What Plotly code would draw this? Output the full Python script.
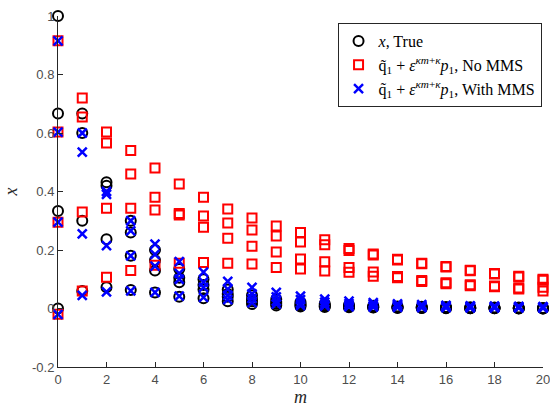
import plotly.graph_objects as go

m_vals = list(range(21))

true_c1 = [1.0, 0.667, 0.432, 0.30, 0.20, 0.135, 0.10, 0.065, 0.045, 0.032, 0.022, 0.016, 0.012, 0.009, 0.007, 0.006, 0.005, 0.004, 0.003, 0.003, 0.002]
true_c2 = [0.667, 0.60, 0.42, 0.26, 0.165, 0.105, 0.08, 0.05, 0.032, 0.022, 0.015, 0.011, 0.008, 0.006, 0.005, 0.004, 0.003, 0.002, 0.002, 0.001, 0.001]
true_c3 = [0.333, 0.30, 0.237, 0.18, 0.13, 0.09, 0.065, 0.04, 0.025, 0.016, 0.011, 0.008, 0.006, 0.004, 0.003, 0.002, 0.002, 0.001, 0.001, 0.001, 0.0]
true_c4 = [0.0, 0.06, 0.073, 0.063, 0.055, 0.04, 0.035, 0.025, 0.015, 0.01, 0.007, 0.005, 0.004, 0.003, 0.002, 0.002, 0.001, 0.001, 0.001, 0.0, 0.0]

nomms_c1 = [0.915, 0.72, 0.603, 0.54, 0.48, 0.426, 0.38, 0.34, 0.309, 0.282, 0.26, 0.235, 0.205, 0.186, 0.168, 0.155, 0.144, 0.131, 0.12, 0.11, 0.10]
nomms_c2 = [0.603, 0.655, 0.566, 0.46, 0.38, 0.325, 0.316, 0.292, 0.268, 0.248, 0.227, 0.218, 0.198, 0.183, 0.166, 0.153, 0.142, 0.129, 0.118, 0.108, 0.097]
nomms_c3 = [0.295, 0.33, 0.343, 0.343, 0.337, 0.32, 0.278, 0.24, 0.213, 0.193, 0.169, 0.16, 0.14, 0.125, 0.109, 0.096, 0.088, 0.081, 0.077, 0.07, 0.073]
nomms_c4 = [-0.02, 0.06, 0.107, 0.13, 0.148, 0.155, 0.157, 0.155, 0.152, 0.14, 0.135, 0.128, 0.124, 0.11, 0.105, 0.092, 0.085, 0.078, 0.074, 0.067, 0.06]

mms_c1 = [0.915, 0.60, 0.40, 0.30, 0.22, 0.16, 0.124, 0.093, 0.072, 0.055, 0.042, 0.032, 0.025, 0.02, 0.016, 0.013, 0.011, 0.009, 0.008, 0.007, 0.006]
mms_c2 = [0.603, 0.535, 0.39, 0.265, 0.185, 0.12, 0.09, 0.066, 0.05, 0.04, 0.03, 0.022, 0.017, 0.014, 0.011, 0.009, 0.008, 0.007, 0.006, 0.005, 0.005]
mms_c3 = [0.295, 0.255, 0.215, 0.18, 0.145, 0.10, 0.072, 0.045, 0.035, 0.025, 0.018, 0.013, 0.01, 0.008, 0.007, 0.006, 0.005, 0.004, 0.004, 0.003, 0.003]
mms_c4 = [-0.02, 0.045, 0.057, 0.06, 0.055, 0.042, 0.038, 0.03, 0.02, 0.015, 0.01, 0.008, 0.006, 0.005, 0.004, 0.003, 0.003, 0.002, 0.002, 0.002, 0.001]

x_ticks = [0, 2, 4, 6, 8, 10, 12, 14, 16, 18, 20]
y_ticks = [-0.2, 0, 0.2, 0.4, 0.6, 0.8, 1]
y_tick_labels = ["-0.2", "0", "0.2", "0.4", "0.6", "0.8", "1"]

names = [
    "<i>x</i>, True",
    "q\u0303<sub>1</sub> + <i>\u03b5</i><sup><i>\u03bam</i>+<i>\u03ba</i></sup><i>p</i><sub>1</sub>, No MMS",
    "q\u0303<sub>1</sub> + <i>\u03b5</i><sup><i>\u03bam</i>+<i>\u03ba</i></sup><i>p</i><sub>1</sub>, With MMS",
]


def stack(comps):
    xs, ys = [], []
    for c in comps:
        xs += m_vals
        ys += c
    return xs, ys


fig = go.Figure()
xs, ys = stack([true_c1, true_c2, true_c3, true_c4])
fig.add_trace(go.Scatter(x=xs, y=ys, mode="markers", name=names[0], cliponaxis=False,
                         marker=dict(symbol="circle-open", size=10, color="black", line=dict(width=2, color="black"))))
xs, ys = stack([nomms_c1, nomms_c2, nomms_c3, nomms_c4])
fig.add_trace(go.Scatter(x=xs, y=ys, mode="markers", name=names[1], cliponaxis=False,
                         marker=dict(symbol="square-open", size=9, color="#ff0000", line=dict(width=2, color="#ff0000"))))
xs, ys = stack([mms_c1, mms_c2, mms_c3, mms_c4])
fig.add_trace(go.Scatter(x=xs, y=ys, mode="markers", name=names[2], cliponaxis=False,
                         marker=dict(symbol="x-thin-open", size=9, color="#0000ff", line=dict(width=2.5, color="#0000ff"))))

axis_common = dict(showgrid=False, zeroline=False, showline=True, linecolor="#262626", linewidth=1,
                   ticks="inside", ticklen=5, tickcolor="#262626", mirror=False,
                   ticklabeloverflow="allow", automargin=False,
                   tickfont=dict(family="Liberation Sans, Arial", size=13, color="#4d4d4d"))

fig.update_layout(
    width=550, height=408,
    margin=dict(l=58, r=7, t=16, b=41),
    paper_bgcolor="white", plot_bgcolor="white",
    xaxis=dict(range=[0, 20], tickvals=x_ticks, ticktext=[str(t) for t in x_ticks],
               title=dict(text="<i>m</i>", font=dict(family="Liberation Serif, DejaVu Serif", size=18, color="#262626"), standoff=0),
               **axis_common),
    yaxis=dict(range=[-0.2, 1], tickvals=y_ticks, ticktext=y_tick_labels,
               title=dict(text="<i>x</i>", font=dict(family="Liberation Serif, DejaVu Serif", size=18, color="#262626"), standoff=9),
               **axis_common),
    legend=dict(x=0.997, y=0.98, xanchor="right", yanchor="top", bgcolor="white",
                bordercolor="#262626", borderwidth=1,
                font=dict(family="Liberation Serif, DejaVu Serif", size=16, color="black"),
                tracegroupgap=0, itemwidth=30),
    showlegend=True,
)

fig.write_html("out.html")
